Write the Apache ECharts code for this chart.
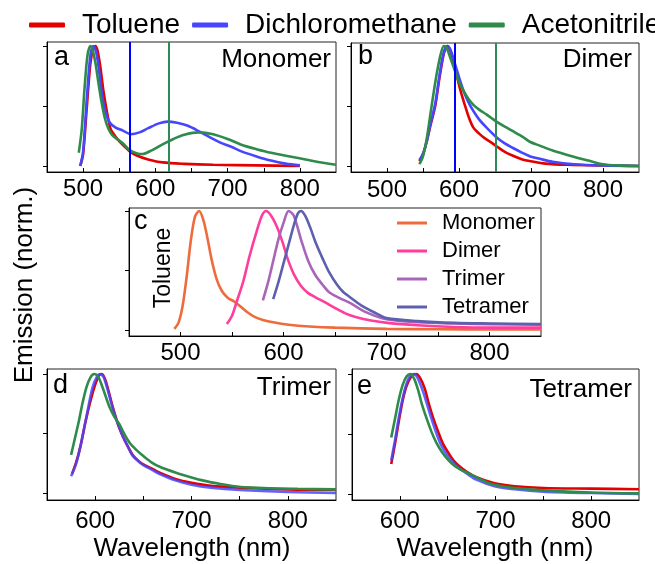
<!DOCTYPE html>
<html>
<head>
<meta charset="utf-8">
<script src="https://cdn.jsdelivr.net/npm/echarts@6.0.0/dist/echarts.min.js"></script>
<style>
  html, body { margin: 0; padding: 0; background: #fff; }
  #chart { width: 655px; height: 564px; }
</style>
</head>
<body>
<div id="chart"></div>
<script>
// [wavelength (nm), normalised emission]
// a - monomer
const monoToluene = [[496,0.0],[500,0.1],[505,0.48],[510,0.85],[514,0.98],[517,1.0],[520,0.96],[524,0.82],[528,0.63],[533,0.45],[538,0.31],[543,0.26],[548,0.22],[556,0.17],[565,0.12],[575,0.085],[590,0.055],[610,0.03],[640,0.018],[680,0.01],[740,0.005],[800,0.0]]
const monoDCM = [[496,0.0],[500,0.12],[505,0.55],[510,0.92],[514,1.0],[518,0.95],[522,0.8],[526,0.6],[531,0.45],[537,0.36],[545,0.32],[555,0.295],[566,0.265],[578,0.28],[590,0.315],[605,0.355],[617,0.37],[630,0.36],[645,0.335],[660,0.29],[675,0.24],[690,0.195],[705,0.16],[720,0.12],[740,0.08],[760,0.045],[780,0.02],[800,0.005]]
const monoACN = [[494,0.11],[498,0.3],[502,0.65],[506,0.92],[510,1.0],[513,0.97],[517,0.86],[521,0.7],[525,0.55],[530,0.4],[535,0.31],[540,0.26],[548,0.22],[555,0.19],[565,0.13],[575,0.105],[582,0.1],[595,0.13],[610,0.18],[625,0.225],[640,0.26],[660,0.28],[680,0.265],[700,0.225],[720,0.175],[740,0.14],[760,0.11],[790,0.075],[820,0.04],[850,0.01]]
const monoMarks = [565, 619]   // DCM, ACN

// b - dimer
const dimerToluene = [[545,0.04],[550,0.1],[555,0.2],[560,0.33],[567,0.5],[572,0.7],[577,0.88],[581,0.98],[584,1.0],[588,0.96],[592,0.88],[597,0.75],[602,0.63],[608,0.51],[614,0.4],[620,0.32],[628,0.27],[636,0.23],[645,0.195],[652,0.165],[663,0.12],[675,0.085],[688,0.055],[700,0.04],[720,0.02],[750,0.01],[800,0.004],[850,0.0]]
const dimerDCM = [[545,0.05],[550,0.1],[555,0.2],[560,0.34],[567,0.52],[572,0.72],[577,0.9],[581,0.98],[584,1.0],[588,0.97],[594,0.86],[601,0.72],[608,0.6],[615,0.51],[622,0.44],[629,0.38],[640,0.31],[652,0.24],[663,0.19],[675,0.15],[688,0.11],[699,0.08],[712,0.06],[730,0.035],[760,0.015],[800,0.005],[850,0.0]]
const dimerACN = [[545,0.015],[550,0.08],[555,0.22],[560,0.42],[565,0.62],[570,0.8],[575,0.94],[579,1.0],[583,0.98],[588,0.9],[594,0.8],[600,0.7],[606,0.63],[613,0.56],[620,0.51],[628,0.47],[638,0.43],[645,0.4],[652,0.37],[663,0.33],[675,0.29],[688,0.245],[699,0.2],[712,0.17],[730,0.13],[758,0.08],[780,0.045],[800,0.015],[820,0.005],[850,0.0]]
const dimerMarks = [594, 651]

// c - toluene, all sizes
const tolMonomer = [[494,0.01],[498,0.06],[502,0.2],[506,0.45],[510,0.75],[514,0.95],[518,1.0],[522,0.93],[526,0.78],[530,0.6],[535,0.43],[540,0.33],[546,0.27],[552,0.24],[558,0.2],[565,0.15],[572,0.11],[580,0.085],[590,0.065],[605,0.045],[625,0.03],[650,0.02],[700,0.01],[750,0.007],[800,0.005],[850,0.005]]
const tolDimer = [[545,0.05],[550,0.12],[555,0.25],[561,0.41],[567,0.62],[574,0.83],[579,0.96],[583,1.0],[588,0.96],[594,0.86],[599,0.74],[604,0.6],[610,0.47],[617,0.37],[624,0.31],[631,0.275],[640,0.235],[649,0.19],[660,0.14],[670,0.11],[685,0.08],[701,0.06],[730,0.04],[766,0.025],[800,0.02],[850,0.02]]
const tolTrimer = [[580,0.25],[585,0.4],[590,0.58],[595,0.76],[600,0.9],[605,1.0],[610,0.96],[617,0.76],[624,0.58],[631,0.46],[638,0.38],[644,0.32],[654,0.27],[664,0.23],[680,0.15],[700,0.09],[730,0.065],[766,0.055],[800,0.05],[850,0.045]]
const tolTetramer = [[590,0.26],[595,0.4],[600,0.56],[605,0.72],[610,0.88],[614,0.98],[617,1.0],[621,0.96],[626,0.86],[631,0.74],[638,0.6],[644,0.49],[652,0.38],[658,0.32],[664,0.28],[675,0.21],[690,0.14],[700,0.1],[730,0.075],[766,0.06],[800,0.055],[850,0.05]]

// d - trimer
const trimerToluene = [[576,0.16],[580,0.25],[585,0.4],[590,0.6],[595,0.77],[600,0.91],[604,0.99],[607,1.0],[611,0.94],[618,0.73],[624,0.57],[629,0.47],[634,0.39],[639,0.32],[645,0.27],[650,0.24],[660,0.2],[667,0.17],[684,0.115],[700,0.085],[720,0.06],[750,0.045],[800,0.03],[850,0.025]]
const trimerDCM = [[575,0.14],[580,0.24],[583,0.33],[590,0.6],[597,0.88],[602,0.98],[605,1.0],[609,0.97],[618,0.72],[624,0.57],[629,0.47],[634,0.39],[639,0.31],[645,0.265],[650,0.235],[660,0.19],[667,0.16],[684,0.105],[700,0.07],[720,0.045],[750,0.025],[800,0.008],[850,0.0]]
const trimerACN = [[575,0.32],[579,0.46],[583,0.6],[587,0.76],[591,0.89],[595,0.97],[599,1.0],[603,0.98],[608,0.88],[615,0.72],[620,0.64],[625,0.58],[630,0.5],[636,0.42],[643,0.36],[650,0.31],[658,0.26],[667,0.22],[684,0.17],[700,0.13],[709,0.11],[730,0.075],[751,0.05],[780,0.04],[810,0.035],[850,0.03]]

// e - tetramer
const tetraToluene = [[591,0.25],[595,0.42],[599,0.61],[603,0.78],[607,0.9],[612,0.98],[617,1.0],[621,0.97],[626,0.88],[630,0.76],[635,0.63],[640,0.52],[645,0.42],[651,0.34],[656,0.28],[661,0.24],[670,0.185],[680,0.14],[699,0.09],[720,0.065],[750,0.05],[800,0.045],[850,0.04]]
const tetraDCM = [[591,0.28],[595,0.45],[599,0.64],[603,0.8],[607,0.92],[611,0.99],[615,1.0],[619,0.96],[624,0.86],[628,0.76],[633,0.63],[638,0.51],[643,0.41],[649,0.33],[655,0.27],[661,0.22],[670,0.17],[680,0.12],[699,0.065],[720,0.04],[750,0.02],[800,0.008],[850,0.0]]
const tetraACN = [[591,0.47],[595,0.63],[599,0.79],[603,0.91],[607,0.98],[611,1.0],[615,0.96],[619,0.87],[623,0.75],[628,0.63],[633,0.52],[638,0.43],[644,0.35],[651,0.28],[658,0.23],[667,0.19],[675,0.16],[690,0.1],[700,0.075],[720,0.05],[750,0.03],[800,0.012],[850,0.005]]

const xTicksWide = [500, 550, 600, 650, 700, 750, 800]
const xLabelsWide = [500, 600, 700, 800]
const xTicksNarrow = [600, 650, 700, 750, 800]
const xLabelsNarrow = [600, 700, 800]
const yTicks = [0, 0.5, 1]

const solventNames = ['Toluene', 'Dichloromethane', 'Acetonitrile']
const sizeNames = ['Monomer', 'Dimer', 'Trimer', 'Tetramer']

const RED = '#e30000'
const BLUE = '#4646ff'
const GREEN = '#2e8b4b'
const FONT = 'Liberation Sans'

const chart = echarts.init(document.getElementById('chart'))

const grids = [
  { left: 47, top: 42, width: 289, height: 130 },
  { left: 351, top: 43, width: 288, height: 129 },
  { left: 129, top: 208, width: 412, height: 128 },
  { left: 47, top: 369, width: 289, height: 131 },
  { left: 352, top: 369, width: 287, height: 131 }
].map(g => ({ ...g, show: true, borderColor: '#222', borderWidth: 1, backgroundColor: 'transparent' }))

function xAxis(i, min, ticks, labels, margin) {
  return {
    type: 'value', gridIndex: i, min: min, max: 850,
    splitLine: { show: false },
    axisLine: { onZero: false, lineStyle: { color: '#000', width: 1 } },
    axisTick: { inside: true, length: 4, customValues: ticks, lineStyle: { color: '#000' } },
    axisLabel: { customValues: labels, fontSize: 24, color: '#000', fontFamily: FONT, margin: margin }
  }
}
function yAxis(i, min, max) {
  return {
    type: 'value', gridIndex: i, min: min, max: max,
    splitLine: { show: false },
    axisLine: { onZero: false, lineStyle: { color: '#000', width: 1 } },
    axisTick: { inside: false, length: 4, customValues: yTicks, lineStyle: { color: '#000' } },
    axisLabel: { show: false }
  }
}

function line(name, data, idx, color, extra) {
  return {
    name: name, type: 'line', data: data,
    xAxisIndex: idx, yAxisIndex: idx,
    showSymbol: false, symbol: 'none',
    smooth: 0.3,
    lineStyle: { color: color, width: 2.6 },
    itemStyle: { color: color },
    animation: false,
    ...extra
  }
}
function vline(value, color) {
  return {
    silent: true, symbol: ['none', 'none'], label: { show: false },
    lineStyle: { color: color, width: 2, type: 'solid' },
    data: [{ xAxis: value }]
  }
}

function txt(text, x, y, size, align, rot) {
  return {
    type: 'text', x: x, y: y, rotation: rot || 0,
    style: { text: text, font: size + 'px "' + FONT + '"', fill: '#000', textAlign: align || 'center', textVerticalAlign: 'middle' }
  }
}

chart.setOption({
  animation: false,
  textStyle: { fontFamily: FONT },
  grid: grids,
  xAxis: [
    xAxis(0, 450, xTicksWide, xLabelsWide, 5),
    xAxis(1, 450, xTicksWide, xLabelsWide, 6),
    xAxis(2, 450, xTicksWide, xLabelsWide, 5),
    xAxis(3, 550, xTicksNarrow, xLabelsNarrow, 9),
    xAxis(4, 550, xTicksNarrow, xLabelsNarrow, 9)
  ],
  yAxis: [
    yAxis(0, -0.05, 1.033),
    yAxis(1, -0.05, 1.025),
    yAxis(2, -0.05, 1.025),
    yAxis(3, -0.059, 1.042),
    yAxis(4, -0.05, 1.042)
  ],
  legend: [
    {
      data: solventNames, left: 29, top: 11, width: 720, padding: 0, icon: 'roundRect',
      itemWidth: 36, itemHeight: 5, itemGap: 12, selectedMode: false,
      textStyle: { fontSize: 28, color: '#000', fontFamily: FONT, padding: [0, 0, 0, 12] }
    },
    {
      data: sizeNames, orient: 'vertical', left: 392, top: 207, icon: 'rect',
      itemWidth: 30, itemHeight: 3, itemGap: 6, selectedMode: false,
      textStyle: { fontSize: 22, color: '#000', fontFamily: FONT, padding: [0, 0, 0, 10] }
    }
  ],
  series: [
    line('Toluene', monoToluene, 0, RED),
    line('Dichloromethane', monoDCM, 0, BLUE, { markLine: vline(monoMarks[0], '#0000ff') }),
    line('Acetonitrile', monoACN, 0, GREEN, { markLine: vline(monoMarks[1], '#2e8b57') }),

    line('Toluene', dimerToluene, 1, RED),
    line('Dichloromethane', dimerDCM, 1, BLUE, { markLine: vline(dimerMarks[0], '#0000ff') }),
    line('Acetonitrile', dimerACN, 1, GREEN, { markLine: vline(dimerMarks[1], '#2e8b57') }),

    line('Monomer', tolMonomer, 2, '#ee6b3b'),
    line('Dimer', tolDimer, 2, '#ff3d9c'),
    line('Trimer', tolTrimer, 2, '#a965b8'),
    line('Tetramer', tolTetramer, 2, '#5c60ae'),

    line('Toluene', trimerToluene, 3, RED),
    line('Dichloromethane', trimerDCM, 3, BLUE, { lineStyle: { color: BLUE, width: 2.6, opacity: 0.85 } }),
    line('Acetonitrile', trimerACN, 3, GREEN),

    line('Toluene', tetraToluene, 4, RED),
    line('Dichloromethane', tetraDCM, 4, BLUE, { lineStyle: { color: BLUE, width: 2.6, opacity: 0.85 } }),
    line('Acetonitrile', tetraACN, 4, GREEN)
  ],
  graphic: [
    txt('a', 54, 58, 27, 'left'),
    txt('b', 358, 57, 27, 'left'),
    txt('c', 134, 222, 27, 'left'),
    txt('d', 53, 386, 27, 'left'),
    txt('e', 357, 387, 27, 'left'),
    txt('Monomer', 331, 60, 26, 'right'),
    txt('Dimer', 632, 60, 26, 'right'),
    txt('Trimer', 331, 388, 26, 'right'),
    txt('Tetramer', 632, 390, 26, 'right'),
    txt('Toluene', 164, 268, 23, 'center', Math.PI / 2),
    txt('Emission (norm.)', 25, 285, 26, 'center', Math.PI / 2),
    txt('Wavelength (nm)', 192, 549, 26),
    txt('Wavelength (nm)', 495, 549, 26)
  ]
})
</script>
</body>
</html>
